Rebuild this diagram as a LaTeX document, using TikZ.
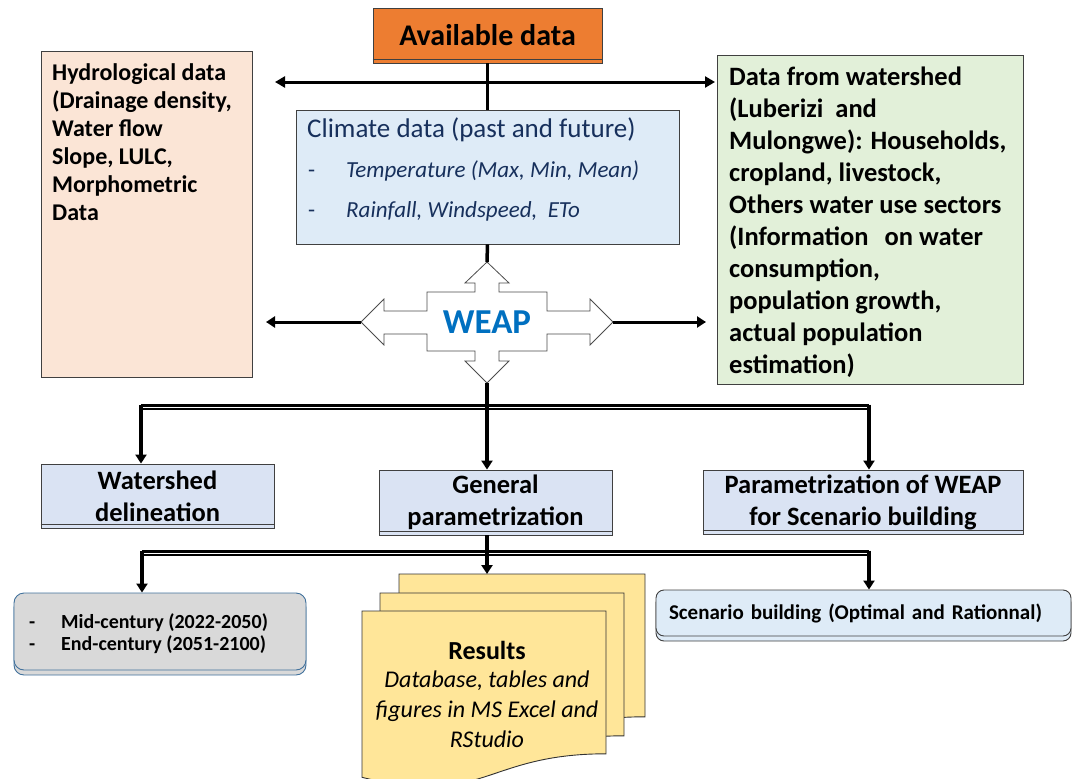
\documentclass[tikz,border=0pt]{standalone}
\usepackage{fontspec}
\setmainfont{Carlito}
\usetikzlibrary{arrows.meta,calc,shadows}
\definecolor{orangeF}{HTML}{ED7D31}
\definecolor{climF}{HTML}{DEEBF7}
\definecolor{navy}{HTML}{17305C}
\definecolor{hydroF}{HTML}{FBE5D6}
\definecolor{greenF}{HTML}{E2F0D9}
\definecolor{stepF}{HTML}{DAE3F3}
\definecolor{grayF}{HTML}{D9D9D9}
\definecolor{grayB}{HTML}{41719C}
\definecolor{resF}{HTML}{FFE699}
\definecolor{weapT}{HTML}{0070C0}
\begin{document}
\begin{tikzpicture}[x=1pt,y=-1pt,
  box/.style={draw=black!75, line width=0.9pt, inner sep=0pt},
  conn/.style={line width=3.5pt, draw=black},
  tipA/.style={-{Triangle[length=9pt,width=11pt]}},
  bus/.style={draw=black, line width=2.4pt, double=white, double distance=0.9pt},
  txt/.style={inner sep=0pt, align=left},
  sheet/.style={fill=resF, draw=black!80, line width=0.9pt},
  stepbox/.style={box, fill=stepF, align=center, font=\fontsize{26.5}{32}\selectfont\bfseries},
]
\useasboundingbox (0,0) rectangle (1077,779);

% ---------- top boxes ----------
\node[box, fill=orangeF, minimum width=229pt, minimum height=55pt,
      font=\fontsize{30}{36}\selectfont\bfseries] (avail) at (487.5,35.5) {Available data};
\draw[black!75, line width=0.8pt] ([yshift=4pt]avail.south west) -- ([yshift=4pt]avail.south east);

\node[box, fill=hydroF, minimum width=211pt, minimum height=326pt] (hydro) at (146.5,214) {};
\node[txt, anchor=north west, font=\fontsize{24}{28}\selectfont\bfseries] (hydrotxt) at (52,63.5)
  {Hydrological data\\(Drainage density,\\Water flow\\Slope, LULC,\\Morphometric\\Data};

\node[box, fill=greenF, minimum width=306pt, minimum height=329pt] (green) at (870,219.5) {};
\node[txt, anchor=north west, font=\fontsize{26.5}{32}\selectfont\bfseries] (greentxt) at (729,66.5)
  {Data from watershed\\(Luberizi\ \ and\\Mulongwe): Households,\\cropland, livestock,\\Others water use sectors\\(Information\hspace{16pt}on water\\consumption,\\population growth,\\actual population\\estimation)};

\node[box, fill=climF, minimum width=383pt, minimum height=134pt] (climate) at (487.5,177) {};
\node[txt, anchor=base west, text=navy, font=\fontsize{27}{32}\selectfont] (climT) at (307,137)
  {Climate data (past and future)};
\node[txt, anchor=base west, text=navy, font=\fontsize{23}{40}\selectfont\itshape] (clim1) at (308,177)
  {\makebox[38pt][l]{\upshape-}Temperature (Max, Min, Mean)};
\node[txt, anchor=base west, text=navy, font=\fontsize{23}{40}\selectfont\itshape] (clim2) at (308,217)
  {\makebox[38pt][l]{\upshape-}Rainfall, Windspeed,\ \ ETo};

% ---------- WEAP cross ----------
\coordinate (wN) at (487,262);
\coordinate (wS) at (487,383);
\coordinate (wW) at (361,322);
\coordinate (wE) at (613,322);
\draw[fill=white, draw=black!70, line width=0.8pt]
  (wN) -- (509,283) -- (499,283) -- (499,292) -- (547,292) -- (547,311) -- (590,311) -- (590,299)
  -- (wE) -- (590,345) -- (590,334) -- (547,334) -- (547,351) -- (499,351) -- (499,361) -- (509,361)
  -- (wS) -- (465,361) -- (475,361) -- (475,351) -- (427,351) -- (427,334) -- (384,334) -- (384,345)
  -- (wW) -- (384,299) -- (384,311) -- (427,311) -- (427,292) -- (475,292) -- (475,283) -- (465,283) -- cycle;
\node[text=weapT, font=\fontsize{35}{40}\selectfont\bfseries] (weap) at (487,322) {WEAP};

% ---------- middle boxes ----------
\node[stepbox, minimum width=233pt, minimum height=64pt] (wshed) at (157.5,496) {Watershed\\delineation};
\node[stepbox, minimum width=233pt, minimum height=65pt] (general) at (495.5,502.5) {General\\parametrization};
\node[stepbox, minimum width=320pt, minimum height=64pt] (para) at (863,502) {Parametrization of WEAP\\for Scenario building};
\foreach \b in {wshed,general,para}
  \draw[black!75, line width=0.8pt] ([yshift=4pt]\b.south west) -- ([yshift=4pt]\b.south east);

% ---------- bottom boxes ----------
\node[draw=grayB, fill=grayF, line width=0.9pt, rounded corners=10pt, minimum width=292pt, minimum height=77pt,
      copy shadow={shadow xshift=0pt, shadow yshift=-5pt}] (mid) at (160,631.5) {};
\node[txt, anchor=north west, font=\fontsize{20}{22}\selectfont\bfseries] (midtxt) at (29,613)
  {\makebox[32pt][l]{-}Mid-century (2022-2050)\\\makebox[32pt][l]{-}End-century (2051-2100)};

\node[draw=black!75, fill=climF, line width=0.9pt, rounded corners=8pt, minimum width=415pt, minimum height=46pt,
      inner xsep=13pt, text width=389pt, align=left, font=\fontsize{21}{25}\selectfont\bfseries,
      copy shadow={shadow xshift=0pt, shadow yshift=-5pt}] (scen) at (863.5,613)
  {Scenario building (Optimal and Rationnal)};

% results (multi-document)
\draw[sheet] (399,574) -- (645,574) -- (645,716.8) .. controls (522,716.8) and (522,771) .. (399,740.3) -- cycle;
\draw[sheet] (380,593) -- (624,593) -- (624,735.8) .. controls (502,735.8) and (502,790) .. (380,759.3) -- cycle;
\draw[sheet] (362,611) -- (606,611) -- (606,753.8) .. controls (484,753.8) and (484,808) .. (362,777.3) -- cycle;
\coordinate (resTop) at (487,574);
\node[inner sep=0pt, anchor=base, font=\fontsize{26}{30}\selectfont\bfseries] (resT) at (487,659) {Results};
\node[inner sep=0pt, anchor=north, align=center, font=\fontsize{24}{30}\selectfont\itshape] (resB) at (487,671)
  {Database, tables and\\figures in MS Excel and\\RStudio};

% ---------- connectors ----------
\draw[conn] (avail.south) -- (climate.north);
\coordinate (hL) at (275,82);
\coordinate (hR) at (715,82);
\draw[line width=3pt, {Triangle[length=10pt,width=11pt]}-{Triangle[length=10pt,width=11pt]}] (hL) -- (hR);
\draw[conn] (climate.south) -- (wN);
\coordinate (lA) at (266,322);
\coordinate (rA) at (706,322);
\draw[line width=3pt, tipA] (wW) -- (lA);
\draw[line width=3pt, tipA] (wE) -- (rA);

\coordinate (b1l) at (141,407);
\coordinate (b1r) at (869,407);
\draw[bus] (b1l) -- (b1r);
\draw[conn, tipA] (wS) -- (wS |- general.north);
\draw[conn, tipA] ([yshift=2.5pt]b1l) -- (b1l |- wshed.north);
\draw[conn, tipA] ([yshift=2.5pt]b1r) -- (b1r |- para.north);

\coordinate (b2l) at (142,553);
\coordinate (b2r) at (869,553);
\draw[bus] (b2l) -- (b2r);
\draw[conn, tipA] (wS |- general.south) -- (resTop);
\draw[conn, tipA] ([yshift=2.5pt]b2l) -- (b2l |- mid.north);
\draw[conn, tipA] ([yshift=2.5pt]b2r) -- (b2r |- scen.north);
\end{tikzpicture}
\end{document}
